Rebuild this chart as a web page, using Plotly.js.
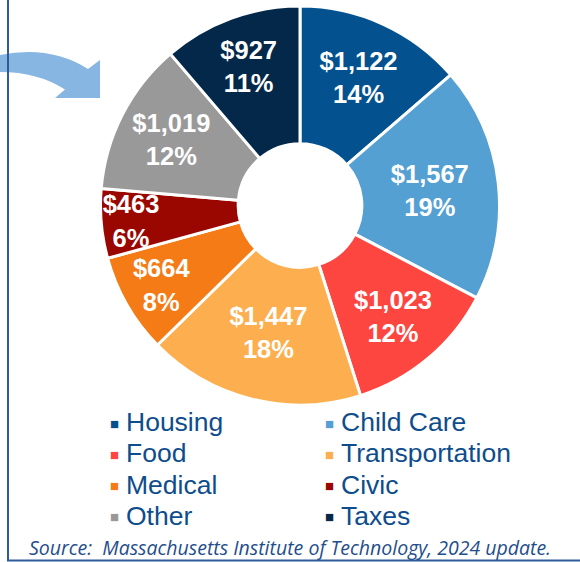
<!DOCTYPE html>
<html>
<head>
<meta charset="utf-8">
<script src="https://cdn.plot.ly/plotly-3.0.1.min.js"></script>
<style>html,body{margin:0;padding:0;background:#fff;}#chart{width:580px;height:562px;}</style>
</head>
<body>
<div id="chart"></div>
<script>
// ---- data ----
var categories = ["Housing", "Child Care", "Food", "Transportation", "Medical", "Civic", "Other", "Taxes"];
var values = [1122, 1567, 1023, 1447, 664, 463, 1019, 927];
var colors = ["#03518F", "#55A0D3", "#FE4641", "#FDAF4F", "#F47B16", "#9A0600", "#999999", "#03284A"];
var sourceText = "Source:  Massachusetts Institute of Technology, 2024 update.";

var W = 580, H = 562;
function px(x) { return x / W; }
function py(y) { return 1 - y / H; }

var pie = {
  type: "pie",
  labels: categories,
  values: values,
  sort: false,
  direction: "clockwise",
  rotation: 0,
  hole: 0.31,
  domain: { x: [px(100), px(500)], y: [py(405), py(6)] },
  marker: { colors: colors, line: { color: "#ffffff", width: 3 } },
  texttemplate: "$%{value:,}<br>%{percent:.0%}",
  textposition: "inside",
  insidetextorientation: "horizontal",
  insidetextfont: { color: "#ffffff", size: 25.5, family: "Liberation Sans, Arial, sans-serif", weight: "bold" },
  hoverinfo: "label+value+percent",
  showlegend: false
};

// legend built as text annotations (two columns, row-wise)
var annotations = [];
var colTextX = [127, 342], colSqX = [114, 329];
for (var i = 0; i < categories.length; i++) {
  var c = i % 2, r = Math.floor(i / 2);
  var yy = 422 + r * 31.3;
  annotations.push({
    xref: "paper", yref: "paper", x: px(colSqX[c]), y: py(yy + 1),
    xanchor: "center", yanchor: "middle", showarrow: false,
    text: "\u25A0", font: { size: 15, color: colors[i], family: "Liberation Sans, Arial, sans-serif" }
  });
  annotations.push({
    xref: "paper", yref: "paper", x: px(colTextX[c] - 3), y: py(yy),
    xanchor: "left", yanchor: "middle", showarrow: false,
    text: categories[i], font: { size: 26.5, color: "#0E4D8C", family: "Liberation Sans, Arial, sans-serif" }
  });
}
annotations.push({
  xref: "paper", yref: "paper", x: px(290), y: py(547),
  xanchor: "center", yanchor: "middle", showarrow: false,
  text: "<i>" + sourceText + "</i>",
  font: { size: 19.5, color: "#1F4E8C", family: "Open Sans, Noto Sans, sans-serif" }
});

function P(x, y) { return px(x).toFixed(5) + "," + py(y).toFixed(5); }
var arrowPath = "M" + P(0, 55) + " Q" + P(50, 45) + " " + P(88, 69) +
  " L" + P(100, 60) + " L" + P(100, 98) + " L" + P(55, 98) + " L" + P(65, 89.5) +
  " Q" + P(38, 72) + " " + P(0, 72) + " Z";

var shapes = [
  { type: "path", xref: "paper", yref: "paper", path: arrowPath, fillcolor: "#86B6E1", line: { width: 0 } },
  { type: "line", xref: "paper", yref: "paper", x0: px(8), x1: px(8), y0: py(0), y1: py(560.5), line: { color: "#2E5C9A", width: 2 } },
  { type: "line", xref: "paper", yref: "paper", x0: px(7), x1: px(580), y0: py(560.5), y1: py(560.5), line: { color: "#2E5C9A", width: 2 } }
];

var layout = {
  width: W, height: H,
  margin: { l: 0, r: 0, t: 0, b: 0 },
  paper_bgcolor: "#ffffff",
  plot_bgcolor: "#ffffff",
  showlegend: false,
  uniformtext: { minsize: 25.5, mode: "show" },
  annotations: annotations,
  shapes: shapes
};

Plotly.newPlot("chart", [pie], layout, { displayModeBar: false, staticPlot: true });
</script>
</body>
</html>
